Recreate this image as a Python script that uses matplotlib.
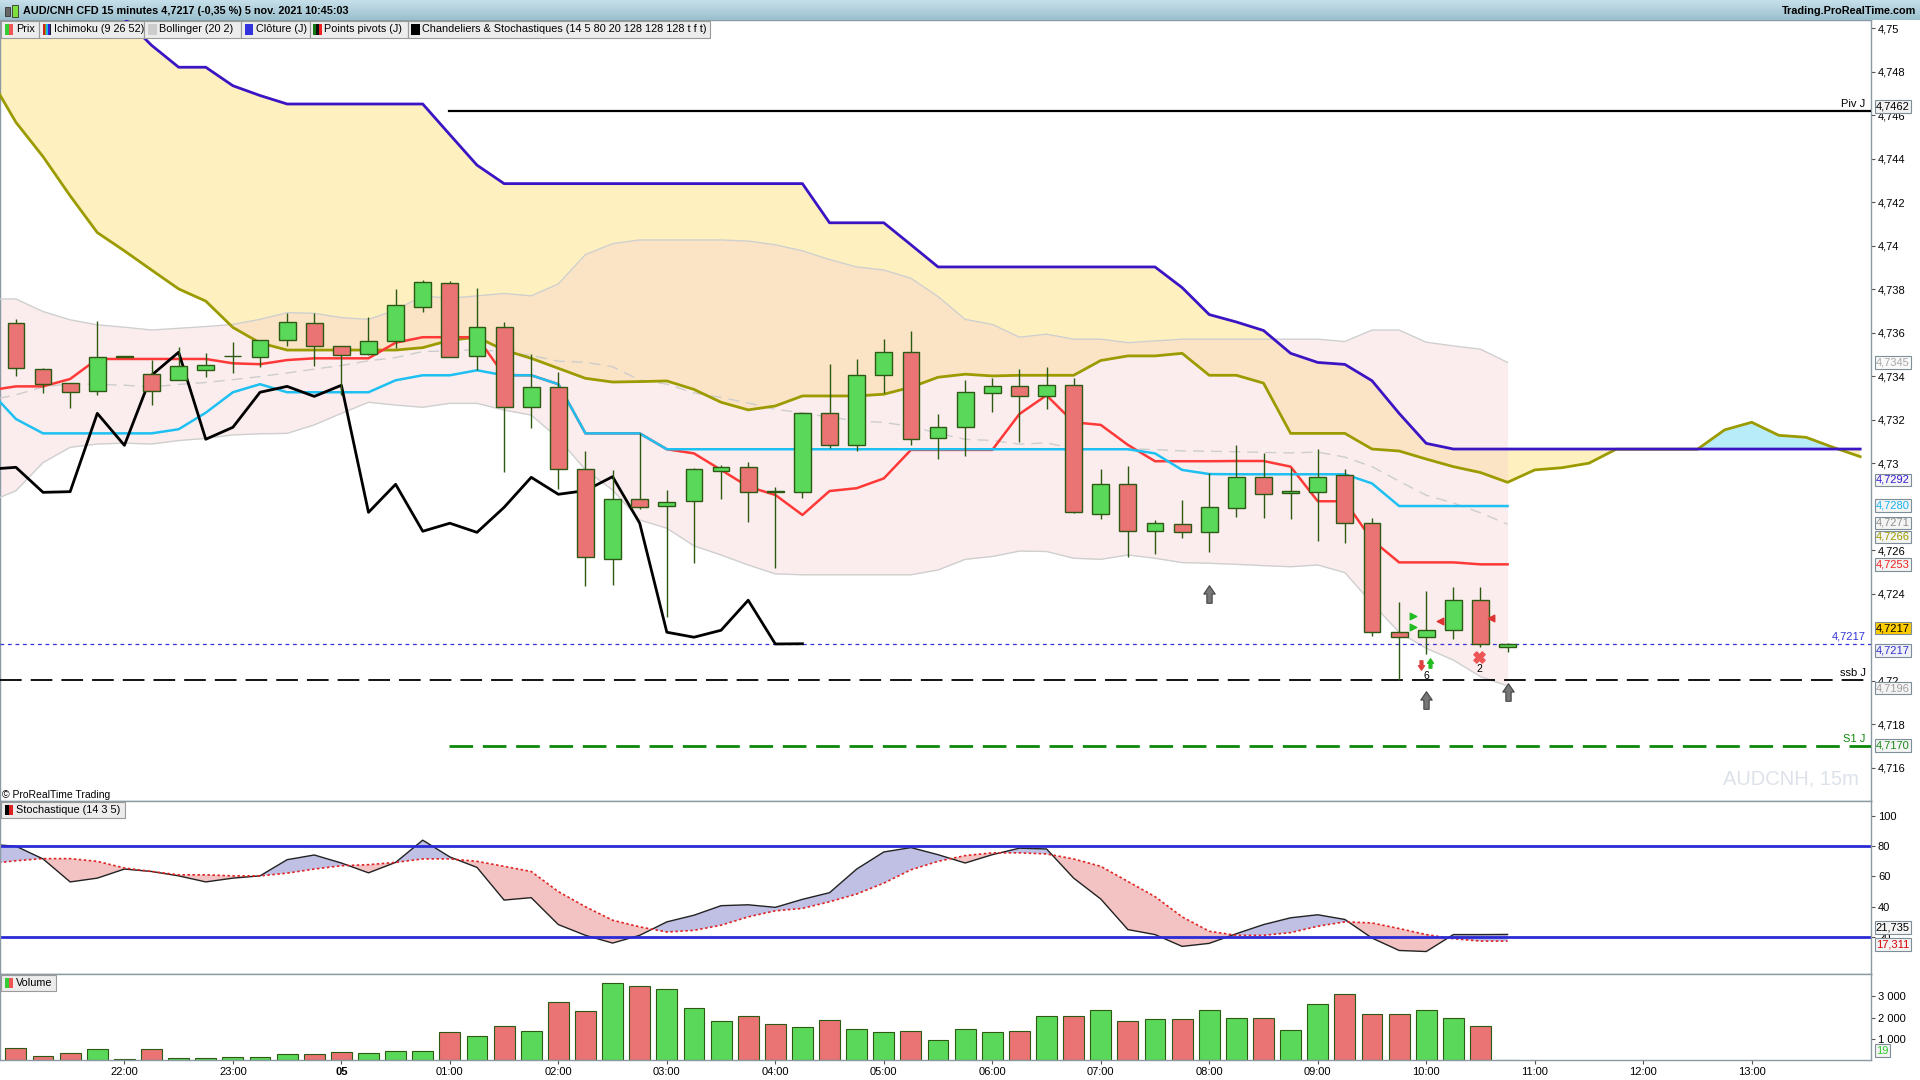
import numpy as np
import matplotlib
matplotlib.use("Agg")
import matplotlib.pyplot as plt
from matplotlib.patches import Rectangle
from matplotlib.path import Path
from matplotlib.colors import LinearSegmentedColormap

plt.rcParams['font.family'] = ['Liberation Sans', 'DejaVu Sans']

# ---- AUD/CNH 15 min candles, 21:00 -> 10:45 (56 bars) ----
opens = [4.73643, 4.73432, 4.73367, 4.73330, 4.73490, 4.73409, 4.73381, 4.73428, 4.73491, 4.73487,
         4.73565, 4.73643, 4.73537, 4.73501, 4.73560, 4.73717, 4.73827, 4.73491, 4.73625, 4.73257,
         4.73349, 4.72972, 4.72558, 4.72834, 4.72802, 4.72825, 4.72966, 4.72981, 4.72870, 4.72866,
         4.73229, 4.73082, 4.73404, 4.73510, 4.73114, 4.73165, 4.73321, 4.73353, 4.73307, 4.73358,
         4.72765, 4.72903, 4.72687, 4.72719, 4.72682, 4.72793, 4.72938, 4.72862, 4.72869, 4.72946,
         4.72727, 4.72223, 4.72200, 4.72232, 4.72370, 4.72157]
highs = [4.73661, 4.73436, 4.73367, 4.73654, 4.73493, 4.73474, 4.73533, 4.73505, 4.73559, 4.73566,
         4.73692, 4.73689, 4.73540, 4.73671, 4.73801, 4.73842, 4.73838, 4.73804, 4.73648, 4.73500,
         4.73418, 4.73056, 4.72969, 4.73137, 4.72877, 4.72976, 4.72992, 4.73004, 4.72889, 4.73229,
         4.73455, 4.73478, 4.73571, 4.73608, 4.73225, 4.73383, 4.73393, 4.73433, 4.73442, 4.73393,
         4.72974, 4.72986, 4.72739, 4.72831, 4.72953, 4.73084, 4.73046, 4.72977, 4.73066, 4.72972,
         4.72747, 4.72361, 4.72413, 4.72431, 4.72431, 4.72172]
lows = [4.73401, 4.73324, 4.73255, 4.73315, 4.73489, 4.73269, 4.73381, 4.73398, 4.73413, 4.73444,
        4.73539, 4.73448, 4.73314, 4.73495, 4.73528, 4.73697, 4.73487, 4.73428, 4.72961, 4.73163,
        4.72882, 4.72437, 4.72442, 4.72790, 4.72295, 4.72543, 4.72836, 4.72731, 4.72517, 4.72842,
        4.73068, 4.73058, 4.73321, 4.73085, 4.73018, 4.73035, 4.73237, 4.73099, 4.73251, 4.72770,
        4.72742, 4.72570, 4.72584, 4.72658, 4.72594, 4.72754, 4.72747, 4.72742, 4.72640, 4.72632,
        4.72207, 4.72004, 4.72122, 4.72194, 4.72157, 4.72134]
closes = [4.73436, 4.73363, 4.73326, 4.73490, 4.73492, 4.73330, 4.73445, 4.73450, 4.73492, 4.73565,
          4.73648, 4.73537, 4.73496, 4.73561, 4.73726, 4.73831, 4.73487, 4.73625, 4.73257, 4.73349,
          4.72972, 4.72567, 4.72834, 4.72797, 4.72820, 4.72972, 4.72981, 4.72866, 4.72869, 4.73229,
          4.73082, 4.73404, 4.73510, 4.73110, 4.73165, 4.73326, 4.73353, 4.73307, 4.73358, 4.72774,
          4.72903, 4.72687, 4.72724, 4.72682, 4.72797, 4.72935, 4.72857, 4.72874, 4.72938, 4.72724,
          4.72223, 4.72200, 4.72232, 4.72370, 4.72169, 4.72170]
volumes = [571, 229, 343, 514, 57, 514, 114, 114, 171, 171, 286, 286, 400, 343, 457, 457,
           1314, 1143, 1600, 1371, 2743, 2286, 3600, 3486, 3314, 2457, 1829, 2057, 1714, 1543,
           1886, 1486, 1314, 1371, 971, 1486, 1314, 1371, 2057, 2057, 2343, 1829, 1943, 1943,
           2343, 2000, 2000, 1429, 2629, 3086, 2171, 2171, 2343, 2000, 1600, 19]

# indicators, first value belongs to the bar before the first candle (index -1)
tenkan = [4.73334, 4.73353, 4.73353, 4.73387, 4.73479, 4.73479, 4.73479, 4.73479, 4.73479, 4.73459,
          4.73455, 4.73474, 4.73482, 4.73482, 4.73482, 4.73554, 4.73579, 4.73579, 4.73579, 4.73405,
          4.73404, 4.73363, 4.73137, 4.73137, 4.73137, 4.73064, 4.73045, 4.72969, 4.72892, 4.72854,
          4.72762, 4.72872, 4.72885, 4.72930, 4.73061, 4.73061, 4.73061, 4.73061, 4.73226, 4.73312,
          4.73188, 4.73176, 4.73084, 4.73009, 4.73009, 4.73009, 4.73010, 4.73010, 4.72984, 4.72825,
          4.72825, 4.72647, 4.72544, 4.72544, 4.72544, 4.72535, 4.72535]
kijun = [4.73337, 4.73203, 4.73137, 4.73137, 4.73137, 4.73137, 4.73137, 4.73156, 4.73232, 4.73326,
         4.73363, 4.73326, 4.73326, 4.73326, 4.73326, 4.73381, 4.73404, 4.73404, 4.73427, 4.73404,
         4.73404, 4.73363, 4.73137, 4.73137, 4.73137, 4.73064, 4.73064, 4.73064, 4.73064, 4.73064,
         4.73064, 4.73064, 4.73064, 4.73064, 4.73064, 4.73064, 4.73064, 4.73064, 4.73064, 4.73064,
         4.73064, 4.73064, 4.73064, 4.73045, 4.72969, 4.72950, 4.72949, 4.72949, 4.72949, 4.72949,
         4.72949, 4.72907, 4.72803, 4.72803, 4.72803, 4.72803, 4.72803]
boll_up = [4.73755, 4.73755, 4.73697, 4.73659, 4.73636, 4.73625, 4.73612, 4.73620, 4.73628, 4.73638,
           4.73661, 4.73692, 4.73689, 4.73669, 4.73661, 4.73704, 4.73769, 4.73758, 4.73769, 4.73780,
           4.73769, 4.73824, 4.73959, 4.74009, 4.74026, 4.74026, 4.74026, 4.74026, 4.74021, 4.74004,
           4.73976, 4.73936, 4.73902, 4.73888, 4.73850, 4.73766, 4.73661, 4.73638, 4.73579, 4.73593,
           4.73570, 4.73570, 4.73554, 4.73562, 4.73570, 4.73570, 4.73570, 4.73570, 4.73570, 4.73570,
           4.73559, 4.73612, 4.73612, 4.73556, 4.73539, 4.73524, 4.73463]
boll_dn = [4.72822, 4.72873, 4.73003, 4.73073, 4.73088, 4.73092, 4.73088, 4.73104, 4.73114, 4.73130,
           4.73135, 4.73137, 4.73176, 4.73229, 4.73280, 4.73267, 4.73257, 4.73275, 4.73275, 4.73244,
           4.73221, 4.73114, 4.72969, 4.72877, 4.72739, 4.72701, 4.72620, 4.72578, 4.72532, 4.72491,
           4.72487, 4.72487, 4.72487, 4.72487, 4.72487, 4.72509, 4.72558, 4.72571, 4.72596, 4.72594,
           4.72563, 4.72558, 4.72578, 4.72563, 4.72543, 4.72540, 4.72535, 4.72529, 4.72524, 4.72532,
           4.72497, 4.72356, 4.72223, 4.72149, 4.72095, 4.72019, 4.71976]
# cloud spans index -1 .. 68 (runs past the last candle)
senkou_a = [4.74780, 4.74567, 4.74409, 4.74229, 4.74060, 4.73976, 4.73888, 4.73801, 4.73745, 4.73624,
            4.73553, 4.73520, 4.73520, 4.73520, 4.73520, 4.73520, 4.73531, 4.73565, 4.73579, 4.73520,
            4.73482, 4.73436, 4.73390, 4.73373, 4.73375, 4.73378, 4.73339, 4.73280, 4.73245, 4.73263,
            4.73309, 4.73309, 4.73309, 4.73317, 4.73349, 4.73395, 4.73409, 4.73401, 4.73404, 4.73404,
            4.73404, 4.73472, 4.73493, 4.73493, 4.73505, 4.73404, 4.73404, 4.73368, 4.73137, 4.73137,
            4.73137, 4.73065, 4.73056, 4.73019, 4.72984, 4.72957, 4.72912, 4.72969, 4.72979, 4.73000,
            4.73064, 4.73064, 4.73064, 4.73064, 4.73153, 4.73188, 4.73128, 4.73119, 4.73073, 4.73030]
senkou_b = [4.75467, 4.75383, 4.75298, 4.75214, 4.75129, 4.75045, 4.74921, 4.74820, 4.74820, 4.74735,
            4.74690, 4.74651, 4.74651, 4.74651, 4.74651, 4.74651, 4.74651, 4.74510, 4.74370, 4.74285,
            4.74285, 4.74285, 4.74285, 4.74285, 4.74285, 4.74285, 4.74285, 4.74285, 4.74285, 4.74285,
            4.74285, 4.74105, 4.74105, 4.74105, 4.74004, 4.73902, 4.73902, 4.73902, 4.73902, 4.73902,
            4.73902, 4.73902, 4.73902, 4.73902, 4.73807, 4.73683, 4.73649, 4.73610, 4.73505, 4.73463,
            4.73454, 4.73379, 4.73229, 4.73091, 4.73065, 4.73065, 4.73065, 4.73065, 4.73065, 4.73065,
            4.73065, 4.73065, 4.73065, 4.73065, 4.73065, 4.73065, 4.73065, 4.73065, 4.73065, 4.73065]
stoch_k = [81.3, 80, 71.6, 56.4, 58.9, 64.9, 63.3, 60.4, 56.4, 58.9, 60.4, 71.1, 74.2, 68.9, 62.4,
           69.3, 84, 72.9, 66, 44.4, 46, 28.2, 21.1, 16, 21.1, 30, 34.4, 40.7, 41.3, 39.6, 44.9,
           49.3, 64.9, 76.2, 79.1, 74.4, 68.9, 74.4, 78.7, 78.2, 58.9, 45.1, 24.9, 21.6, 13.8, 15.8,
           22.2, 28.2, 32.7, 34.7, 31.6, 19.3, 11.1, 10.4, 21.6, 21.6, 21.7]
stoch_d = [68.4, 70.4, 71.8, 71.8, 70, 65.6, 63.3, 61.1, 61.1, 60.4, 60.4, 62.2, 64.9, 67.1, 67.8,
           69.3, 71.6, 71.6, 70, 66.7, 63.3, 50, 40, 31.1, 26.7, 23.3, 24.4, 27.8, 33.3, 37.3, 38.9,
           43.3, 48.4, 55.6, 64.4, 70, 73.8, 75.6, 75.6, 74.9, 71.6, 66.7, 56.7, 46.7, 33.3, 23.8,
           21.1, 21.1, 22.9, 27.1, 30, 29.3, 25.6, 21.6, 18.9, 17.3, 17.3]

piv_j, s1_j, ssb_j, last_price = 4.7462, 4.7170, 4.72005, 4.7217
chikou_shift = 26

# signals drawn by the candle/stochastic indicator
signal_up_idx = [44, 52, 55]
signal_up_price = [4.7240, 4.7191, 4.7195]
buy_tri_idx = [51.5, 51.5]
buy_tri_price = [4.72298, 4.72247]
sell_tri_idx = [52.5, 54.4]
sell_tri_price = [4.72276, 4.72287]

time_labels = ['22:00', '23:00', '05', '01:00', '02:00', '03:00', '04:00', '05:00', '06:00',
               '07:00', '08:00', '09:00', '10:00', '11:00', '12:00', '13:00']
time_idx = [4, 8, 12, 16, 20, 24, 28, 32, 36, 40, 44, 48, 52, 56, 60, 64]
price_ticks = [4.716, 4.718, 4.72, 4.724, 4.726, 4.73, 4.732, 4.734, 4.736, 4.738,
               4.74, 4.742, 4.744, 4.746, 4.748, 4.75]
bold_ticks = [4.72, 4.73, 4.74, 4.75]

# ---- layout, measured on a 1568x882 view of the reference ----
W, H = 1568.0, 882.0
def fx(x):
    return x / W
def fy(y):
    return 1 - y / H

fs = 8.0
fig = plt.figure(figsize=(19.2, 10.8), dpi=100)
right = fx(1528)
ax = fig.add_axes([0, fy(654), right, fy(16) - fy(654)])
axs = fig.add_axes([0, fy(795.5), right, fy(654) - fy(795.5)], sharex=ax)
axv = fig.add_axes([0, fy(866), right, fy(795.5) - fy(866)], sharex=ax)

n = len(closes)
xi = np.arange(n)
x_ind = np.arange(-1, n)
x_cloud = np.arange(-1, len(senkou_a) - 1)
o = np.array(opens)
c = np.array(closes)
up = c >= o
edge = '#2c5a12'
col = np.where(up, '#5ad85a', '#ea7474')

# cloud + bollinger
sa = np.array(senkou_a)
sb = np.array(senkou_b)
ax.fill_between(x_cloud, sa, sb, where=sb >= sa, interpolate=True, color='#fff1bf', lw=0, zorder=1)
ax.fill_between(x_cloud, sa, sb, where=sa > sb, interpolate=True, color='#b9ecf9', lw=0, zorder=1)
bu = np.array(boll_up)
bd = np.array(boll_dn)
ax.fill_between(x_ind, bd, bu, color='#f7d2d2', alpha=0.4, lw=0, zorder=2)
ax.plot(x_ind, bu, color='#cfcfcf', lw=1, zorder=3)
ax.plot(x_ind, bd, color='#cfcfcf', lw=1, zorder=3)
ax.plot(x_ind, (bu + bd) / 2, color='#cdcdcd', lw=1, dashes=(8, 5), zorder=3)

ax.plot(x_cloud, sa, color='#9b9b00', lw=2, zorder=4)
ax.plot(x_cloud, sb, color='#3b14c4', lw=2, zorder=4)
ax.plot(x_ind, tenkan, color='#ff3838', lw=1.8, zorder=4)
ax.plot(x_ind, kijun, color='#1ec0f2', lw=1.8, zorder=5)
ax.plot(np.arange(-1, n - chikou_shift), closes[chikou_shift - 1:], color='black', lw=2, zorder=5)

# pivots and price line
xmin, xmax = -0.587, 68.4
ax.plot([15.98, xmax], [piv_j, piv_j], color='black', lw=1.6, zorder=3)
ax.plot([15.98, xmax], [s1_j, s1_j], color='#0a880a', lw=2, dashes=(8.5, 3.5), zorder=3)
ax.plot([xmin, xmax], [ssb_j, ssb_j], color='black', lw=1.3, dashes=(12, 5), zorder=3)
ax.plot([xmin, xmax], [last_price, last_price], color='#3434d8', lw=0.9, dashes=(3, 3), zorder=3)
for txt, val, clr in [('Piv J', piv_j, 'black'), ('ssb J', ssb_j, 'black'),
                      ('S1 J', s1_j, '#0a880a'), ('4,7217', last_price, '#3434d8')]:
    ax.annotate(txt, (68.2, val), xytext=(0, 1.5), textcoords='offset points',
                ha='right', va='bottom', fontsize=fs, color=clr)

# candles
ax.vlines(xi, lows, highs, color=edge, lw=1, zorder=6)
ax.bar(xi, np.maximum(np.abs(c - o), 0.00003), 0.62, bottom=np.minimum(o, c),
       color=col, edgecolor=edge, lw=1, zorder=7)

# signal markers
arrow = Path([(-0.3, -1), (0.3, -1), (0.3, 0.05), (0.65, 0.05), (0, 1), (-0.65, 0.05),
              (-0.3, 0.05), (-0.3, -1)], closed=True)
arrow_down = Path(arrow.vertices * [1, -1], closed=True)
ax.scatter(signal_up_idx, signal_up_price, marker=arrow, s=160, color='#777777',
           edgecolor='#444444', lw=0.8, zorder=8)
ax.scatter(buy_tri_idx, buy_tri_price, marker='>', s=22, color='#22bb22', zorder=8)
ax.scatter(sell_tri_idx, sell_tri_price, marker='<', s=22, color='#dd3333', zorder=8)
ax.scatter([51.8], [4.72073], marker=arrow_down, s=45, color='#e04040', zorder=8)
ax.scatter([52.15], [4.72080], marker=arrow, s=45, color='#22bb22', zorder=8)
ax.scatter([53.95], [4.72107], marker='X', s=65, color='#ee5555', zorder=8)
ax.text(52.0, 4.72022, '6', fontsize=7.5, ha='center', va='center', zorder=8)
ax.text(53.95, 4.72056, '2', fontsize=7.5, ha='center', va='center', zorder=8)

ax.set_xlim(xmin, xmax)
ax.set_ylim(4.71448, 4.75039)
ax.set_yticks(price_ticks)
ax.set_yticklabels([('%.3f' % v).rstrip('0').replace('.', ',') for v in price_ticks])
for lab, v in zip(ax.get_yticklabels(), price_ticks):
    if v in bold_ticks:
        lab.set_fontweight('bold')

# stochastic
k = np.array(stoch_k)
d = np.array(stoch_d)
axs.fill_between(x_ind, k, d, where=k >= d, interpolate=True, color='#bfc0e4', lw=0)
axs.fill_between(x_ind, k, d, where=k < d, interpolate=True, color='#f3c2c2', lw=0)
axs.plot(x_ind, k, color='#222222', lw=1)
axs.plot(x_ind, d, color='#e02424', lw=1.2, ls=(0, (1.5, 1.5)))
axs.axhline(80, color='#2b2bd6', lw=2)
axs.axhline(20, color='#2b2bd6', lw=2)
axs.set_ylim(-4.5, 110)
axs.set_yticks([20, 40, 60, 80, 100])
axs.set_yticklabels(['20', '40', '60', '80', '100'])
axs.get_yticklabels()[-1].set_fontweight('bold')

# volume
axv.bar(xi, volumes, 0.77, color=col, edgecolor=edge, lw=0.8)
axv.set_ylim(0, 4030)
axv.set_yticks([1000, 2000, 3000])
axv.set_yticklabels(['1 000', '2 000', '3 000'])
axv.set_xticks(time_idx)
axv.set_xticklabels(time_labels)
for lab in axv.get_xticklabels():
    if lab.get_text() == '05':
        lab.set_fontweight('bold')

for a in (ax, axs, axv):
    a.yaxis.tick_right()
    a.tick_params(axis='y', direction='out', length=3, width=0.8, color='#555555',
                  labelsize=fs, pad=2)
    for sp in a.spines.values():
        sp.set_color('#8a99a3')
        sp.set_linewidth(1)
    a.set_facecolor('white')
for a in (ax, axs):
    a.tick_params(axis='x', length=0, labelbottom=False)
axv.tick_params(axis='x', direction='out', length=3, color='#555555', labelsize=fs, pad=2)

# right axis value boxes
boxes = [(87, '4,7462', 'black', '#f2f2f2'), (296, '4,7345', '#a8a8a8', '#fafafa'),
         (392, '4,7292', '#3a1fcf', '#f4f4f4'), (413, '4,7280', '#18b4f0', '#f4f4f4'),
         (427, '4,7271', '#909090', '#f4f4f4'), (438.5, '4,7266', '#9a9a00', '#f4f4f4'),
         (461, '4,7253', '#f02020', '#f4f4f4'), (513, '4,7217', 'black', '#ffcc00'),
         (531, '4,7217', '#3333cc', '#f0f0f8'), (562, '4,7196', '#a0a0a0', '#f4f4f4'),
         (609, '4,7170', '#1a8a1a', '#f4f4f4'), (757.5, '21,735', 'black', '#f4f4f4'),
         (771.5, '17,311', '#dd0000', '#f4f4f4'), (858, '19', '#33cc33', '#f4f4f4')]
for y, txt, clr, fc in boxes:
    fig.text(fx(1532), fy(y), txt, color=clr, fontsize=fs, va='center', ha='left',
             bbox=dict(boxstyle='square,pad=0.12', fc=fc, ec='#7d8e98', lw=0.8), zorder=10)

# header bar
hax = fig.add_axes([0, fy(16), 1, 16 / H])
grad = LinearSegmentedColormap.from_list('hdr', ['#c6e0ea', '#9bbfcd'])
hax.imshow(np.linspace(0, 1, 30).reshape(-1, 1), aspect='auto', cmap=grad, extent=[0, 1, 0, 1])
hax.set_axis_off()
fig.add_artist(Rectangle((fx(4), fy(13)), fx(4), 7 / H, transform=fig.transFigure,
                         fc='#666666', ec='#333333', lw=0.6))
fig.add_artist(Rectangle((fx(10), fy(14)), fx(5), 10 / H, transform=fig.transFigure,
                         fc='#7ee03a', ec='#333333', lw=0.6))
fig.text(fx(19), fy(9), 'AUD/CNH CFD 15 minutes 4,7217 (-0,35 %) 5 nov. 2021 10:45:03',
         fontsize=7.8, fontweight='bold', va='center')
fig.text(fx(1565), fy(9), 'Trading.ProRealTime.com', fontsize=7.8, fontweight='bold',
         va='center', ha='right')

# legend chips
def chip(x0, x1, y0, y1, text, icon_colors):
    fig.add_artist(Rectangle((fx(x0), fy(y1)), fx(x1 - x0), (y1 - y0) / H,
                             transform=fig.transFigure, fc='#ececec', ec='#9a9a9a', lw=0.8, zorder=9))
    w = 7.0 / len(icon_colors)
    for i, ic in enumerate(icon_colors):
        fig.add_artist(Rectangle((fx(x0 + 3 + i * w), fy(y1 - 2.5)), fx(w), (y1 - y0 - 5) / H,
                                 transform=fig.transFigure, fc=ic, lw=0, zorder=10))
    fig.text(fx(x0 + 12), fy((y0 + y1) / 2), text, fontsize=7.8, va='center', zorder=11)

chip(1, 32, 17, 31, 'Prix', ['#33cc33', '#ee5555'])
chip(32, 118, 17, 31, 'Ichimoku (9 26 52)', ['#cc2222', '#999900', '#18b4f0', '#3a1fcf', '#222222'])
chip(118, 197, 17, 31, 'Bollinger (20 2)', ['#cccccc'])
chip(197, 253, 17, 31, 'Clôture (J)', ['#3333dd'])
chip(253, 333, 17, 31, 'Points pivots (J)', ['#117711', '#111111', '#ee2222'])
chip(333, 580, 17, 31, 'Chandeliers & Stochastiques (14 5 80 20 128 128 128 t f t)', ['#000000'])
chip(1, 102, 655, 668, 'Stochastique (14 3 5)', ['#000000', '#dd2222'])
chip(1, 46, 796, 809, 'Volume', ['#33cc33', '#ee5555'])

fig.text(fx(2), fy(649), '© ProRealTime Trading', fontsize=7.5, va='center')
fig.text(fx(1463), fy(636), 'AUDCNH, 15m', fontsize=14.5, color='#dde2ea', ha='center', va='center')

fig.savefig('out.png', dpi=100)
